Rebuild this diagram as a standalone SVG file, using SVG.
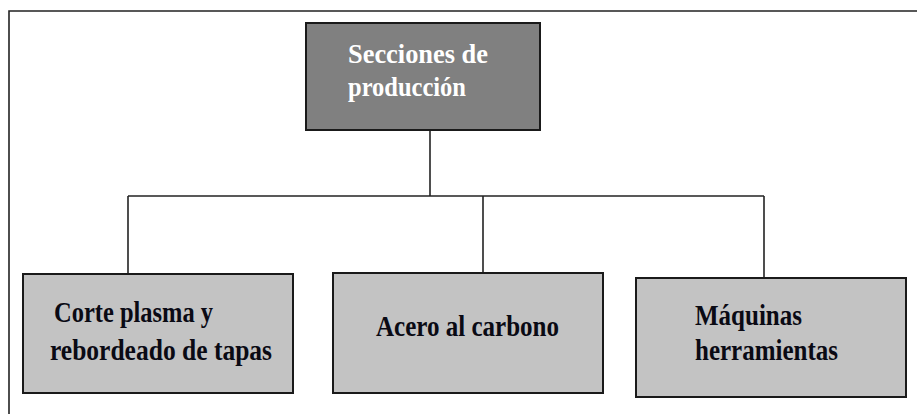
<svg xmlns="http://www.w3.org/2000/svg" width="917" height="414" viewBox="0 0 917 414">
<style>
.box{stroke:#1a1a1a;stroke-width:2}
.top{fill:#808080}
.child{fill:#c3c3c3}
.lbl{font-family:"Liberation Serif","Times New Roman",serif;font-weight:bold;font-size:30px;fill:#0a0a14}
.lblw{font-family:"Liberation Serif","Times New Roman",serif;font-weight:bold;font-size:27px;fill:#ffffff}
.conn{stroke:#222;stroke-width:1.6;fill:none}
</style>
<rect width="917" height="414" fill="#ffffff"/>
<path d="M9,414 V11 H917" fill="none" stroke="#222" stroke-width="1.6"/>
<g id="connectors">
<path class="conn" d="M430,130 V196"/>
<path class="conn" d="M128,196 H764"/>
<path class="conn" d="M128,196 V274"/>
<path class="conn" d="M483,196 V277"/>
<path class="conn" d="M764,196 V280"/>
</g>
<g id="node-secciones">
<rect class="box top" x="306" y="23" width="234" height="107"/>
<text class="lblw" x="348" y="63" textLength="140" lengthAdjust="spacingAndGlyphs">Secciones de</text>
<text class="lblw" x="348" y="96" textLength="118" lengthAdjust="spacingAndGlyphs">producción</text>
</g>
<g id="node-corte">
<rect class="box child" x="23" y="274" width="270" height="119"/>
<text class="lbl" x="54" y="322" textLength="159" lengthAdjust="spacingAndGlyphs">Corte plasma y</text>
<text class="lbl" x="50" y="360" textLength="222" lengthAdjust="spacingAndGlyphs">rebordeado de tapas</text>
</g>
<g id="node-acero">
<rect class="box child" x="333" y="273" width="270" height="120"/>
<text class="lbl" x="376" y="336" textLength="183" lengthAdjust="spacingAndGlyphs">Acero al carbono</text>
</g>
<g id="node-maquinas">
<rect class="box child" x="636" y="278" width="270" height="119"/>
<text class="lbl" x="695" y="325" textLength="107" lengthAdjust="spacingAndGlyphs">Máquinas</text>
<text class="lbl" x="695" y="360" textLength="143" lengthAdjust="spacingAndGlyphs">herramientas</text>
</g>
</svg>
